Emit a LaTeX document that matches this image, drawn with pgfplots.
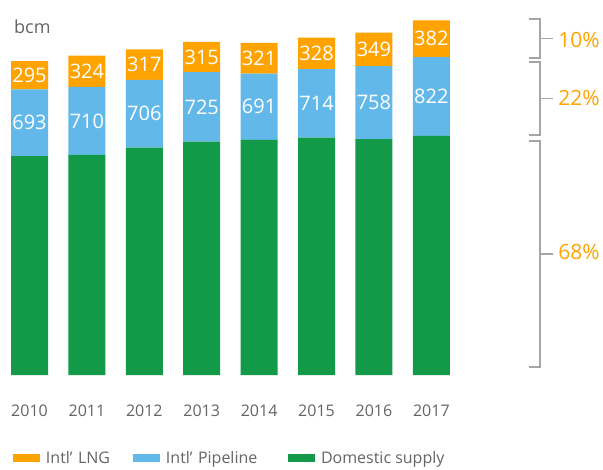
\documentclass[border=0pt]{standalone}
\usepackage{pgfplots}
\pgfplotsset{compat=1.18}
\usepackage{fontspec}
\setmainfont{Open Sans}
\definecolor{lngC}{RGB}{255,163,0}
\definecolor{pipeC}{RGB}{98,185,233}
\definecolor{domC}{RGB}{18,154,72}
\definecolor{txtC}{RGB}{100,100,100}
\definecolor{brC}{RGB}{165,165,165}
\begin{document}
\begin{tikzpicture}
\begin{axis}[
  x=57.4pt, y=0.096pt,
  xmin=-0.5, xmax=7.5, ymin=0, ymax=3750,
  ybar stacked, bar width=37pt,
  clip=false,
  axis line style={draw=none},
  tick style={draw=none},
  ytick=\empty,
  xtick={0,1,2,3,4,5,6,7},
  xticklabels={2010,2011,2012,2013,2014,2015,2016,2017},
  xticklabel style={font=\fontsize{16}{18}\selectfont, text=txtC, inner sep=0pt, yshift=-30pt},
  every node near coord/.append style={font=\fontsize{20}{22}\selectfont, text=white, anchor=center, inner sep=0pt},
  legend columns=3,
  reverse legend,
  legend style={draw=none, fill=none, inner sep=0pt, outer sep=0pt,
    at={(0.0265,-0.2306)}, anchor=west,
    font=\fontsize{16}{18}\selectfont, text=txtC,
    nodes={inner xsep=3pt, inner ysep=0pt},
    /tikz/every even column/.append style={column sep=0pt}},
]
\addplot[fill=domC, draw=none,
  legend image code/.code={\fill[domC] (0pt,-4pt) rectangle (27pt,4pt); \path (30pt,0pt);}]
  table[x=x, y=v] {
x v
0 2281
1 2292
2 2368
3 2430
4 2448
5 2472
6 2458
7 2490
};
\addlegendentry{Domestic supply}
\addplot[fill=pipeC, draw=none,
  visualization depends on={value \thisrow{v}\as\segval},
  nodes near coords={\segval},
  legend image code/.code={\fill[pipeC] (0pt,-4pt) rectangle (27pt,4pt); \path (30pt,0pt);}]
  table[x=x, y=v] {
x v
0 693
1 710
2 706
3 725
4 691
5 714
6 758
7 822
};
\addlegendentry[text width=119pt, align=left]{Intl’ Pipeline}
\addplot[fill=lngC, draw=none,
  visualization depends on={value \thisrow{v}\as\segval},
  nodes near coords={\segval},
  legend image code/.code={\fill[lngC] (0pt,-4pt) rectangle (27pt,4pt); \path (30pt,0pt);}]
  table[x=x, y=v] {
x v
0 295
1 324
2 317
3 315
4 321
5 328
6 349
7 382
};
\addlegendentry[text width=84pt, align=left]{Intl’ LNG}
% bounding box
\path (axis cs:-0.514,-979) rectangle (axis cs:9.99,3906);
% unit label
\node[anchor=base west, inner sep=0pt, text=txtC, font=\fontsize{18}{20}\selectfont] at (axis cs:-0.27,3562) {bcm};
% brackets
\draw[brC, line width=1.4pt] (axis cs:8.702,3708) -- (axis cs:8.894,3708) -- (axis cs:8.894,3302) -- (axis cs:8.702,3302);
\draw[brC, line width=1.4pt] (axis cs:8.894,3505) -- (axis cs:9.12,3505);
\draw[brC, line width=1.4pt] (axis cs:8.702,3260) -- (axis cs:8.894,3260) -- (axis cs:8.894,2500) -- (axis cs:8.702,2500);
\draw[brC, line width=1.4pt] (axis cs:8.894,2880) -- (axis cs:9.12,2880);
\draw[brC, line width=1.4pt] (axis cs:8.702,2437) -- (axis cs:8.894,2437) -- (axis cs:8.894,83) -- (axis cs:8.702,83);
\draw[brC, line width=1.4pt] (axis cs:8.894,1260) -- (axis cs:9.12,1260);
\node[anchor=west, inner sep=0pt, text=lngC, font=\fontsize{21}{23}\selectfont] at (axis cs:9.207,3490) {10\%};
\node[anchor=west, inner sep=0pt, text=lngC, font=\fontsize{21}{23}\selectfont] at (axis cs:9.207,2885) {22\%};
\node[anchor=west, inner sep=0pt, text=lngC, font=\fontsize{21}{23}\selectfont] at (axis cs:9.207,1281) {68\%};
\end{axis}
\end{tikzpicture}
\end{document}
